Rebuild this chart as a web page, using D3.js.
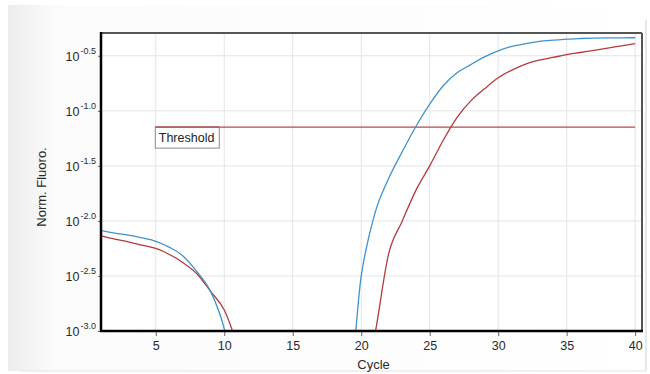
<!DOCTYPE html>
<html lang="en">
<head>
<meta charset="UTF-8">
<script src="https://d3js.org/d3.v7.min.js"></script>
<style>
  body { margin: 0; background: #fff; }
  svg { display: block; font-family: "Liberation Sans", Arial, sans-serif; }
</style>
</head>
<body>
<script>
// cycles 1..40
const cycles = d3.range(1, 41);

// log10 of normalised fluorescence (values below -3 are off the chart)
const blueLog = [-2.085, -2.11, -2.13, -2.155, -2.185, -2.24, -2.32, -2.46, -2.64, -2.98,
  -3.6, -3.6, -3.6, -3.6, -3.6, -3.6, -3.6, -3.6, -3.6, -2.50,
  -1.93, -1.615, -1.37, -1.14, -0.94, -0.77, -0.655, -0.58, -0.51, -0.455,
  -0.415, -0.39, -0.37, -0.358, -0.348, -0.343, -0.34, -0.338, -0.337, -0.336];

const redLog = [-2.136, -2.165, -2.19, -2.22, -2.25, -2.305, -2.38, -2.48, -2.64, -2.81,
  -3.15, -3.6, -3.6, -3.6, -3.6, -3.6, -3.6, -3.6, -3.6, -3.6,
  -3.03, -2.30, -2.0, -1.72, -1.50, -1.265, -1.06, -0.91, -0.80, -0.70,
  -0.63, -0.575, -0.54, -0.515, -0.49, -0.47, -0.45, -0.43, -0.41, -0.39];

const thresholdLog = -1.148;
const thresholdStart = 5;
const thresholdEnd = 40;

const xTicks = [5, 10, 15, 20, 25, 30, 35, 40];
const yTickExp = ['-0.5', '-1.0', '-1.5', '-2.0', '-2.5', '-3.0'];

const W = 650, H = 374;
const margin = { left: 101, right: 8, top: 33, bottom: 43 };
const width = W - margin.left - margin.right;
const height = H - margin.top - margin.bottom;

const svg = d3.select('body').append('svg')
  .attr('width', W)
  .attr('height', H);

// light panel behind the chart
const defs = svg.append('defs');
const grad = defs.append('linearGradient').attr('id', 'panelGrad');
grad.append('stop').attr('offset', '0%').attr('stop-color', '#ececec');
grad.append('stop').attr('offset', '7%').attr('stop-color', '#fbfbfb');
grad.append('stop').attr('offset', '100%').attr('stop-color', '#ffffff');

svg.append('rect')
  .attr('x', 8).attr('y', 5)
  .attr('width', 638).attr('height', 366)
  .attr('fill', 'url(#panelGrad)');
svg.append('line')
  .attr('x1', 646).attr('x2', 646).attr('y1', 20).attr('y2', 371)
  .attr('stroke', '#cfcfcf');
svg.append('line')
  .attr('x1', 20).attr('x2', 646).attr('y1', 371).attr('y2', 371)
  .attr('stroke', '#e2e2e2');

defs.append('clipPath').attr('id', 'plotClip')
  .append('rect').attr('width', width).attr('height', height);

const x = d3.scaleLinear()
  .domain([1, 40.5])
  .range([0, width]);

const y = d3.scaleLog()
  .domain([Math.pow(10, -3), Math.pow(10, -0.293)])
  .range([height, 0]);

const chart = svg.append('g')
  .attr('transform', `translate(${margin.left}, ${margin.top})`);

chart.append('rect')
  .attr('width', width).attr('height', height)
  .attr('fill', '#fff');

// grid lines
chart.append('g')
  .selectAll('line')
  .data(xTicks)
  .enter()
  .append('line')
  .attr('x1', d => x(d)).attr('x2', d => x(d))
  .attr('y1', 0).attr('y2', height)
  .attr('stroke', '#e4e4e4');

chart.append('g')
  .selectAll('line')
  .data(yTickExp)
  .enter()
  .append('line')
  .attr('x1', 0).attr('x2', width)
  .attr('y1', d => y(Math.pow(10, +d))).attr('y2', d => y(Math.pow(10, +d)))
  .attr('stroke', '#e4e4e4');

// x axis
const xAxis = chart.append('g')
  .attr('transform', `translate(0, ${height})`)
  .call(d3.axisBottom(x).tickValues(xTicks).tickSize(5).tickPadding(5));
xAxis.select('.domain').remove();
xAxis.selectAll('line').attr('stroke', '#666');
xAxis.selectAll('text').attr('font-size', '12.5px').attr('fill', '#2a2a2a');

// y axis with 10^exp labels
const yAxis = chart.append('g')
  .call(d3.axisLeft(y).tickValues(yTickExp.map(d => Math.pow(10, +d))).tickSize(3).tickFormat(''));
yAxis.select('.domain').remove();
yAxis.selectAll('line').attr('stroke', '#666');

const yLabels = chart.append('g')
  .selectAll('text')
  .data(yTickExp)
  .enter()
  .append('text')
  .attr('x', -5)
  .attr('y', d => y(Math.pow(10, +d)) + 5)
  .attr('text-anchor', 'end')
  .attr('fill', '#2a2a2a');
yLabels.append('tspan')
  .attr('font-size', '12.5px')
  .text('10');
yLabels.append('tspan')
  .attr('font-size', '9px')
  .attr('dy', -7)
  .attr('dx', 1)
  .text(d => d);

// threshold
const thY = y(Math.pow(10, thresholdLog));
chart.append('line')
  .attr('x1', x(thresholdStart)).attr('x2', x(thresholdEnd))
  .attr('y1', thY).attr('y2', thY)
  .attr('stroke', '#b84848')
  .attr('stroke-width', 1.3);

chart.append('rect')
  .attr('x', x(thresholdStart) - 0.5).attr('y', thY)
  .attr('width', 64).attr('height', 21)
  .attr('fill', '#fff')
  .attr('stroke', '#8a8a8a')
  .attr('stroke-width', 1);
chart.append('line')
  .attr('x1', x(thresholdStart) - 0.5).attr('x2', x(thresholdStart) + 63.5)
  .attr('y1', thY).attr('y2', thY)
  .attr('stroke', '#b84848')
  .attr('stroke-width', 1.3);
chart.append('text')
  .attr('x', x(thresholdStart) + 3)
  .attr('y', thY + 15)
  .attr('font-size', '12.5px')
  .attr('fill', '#222')
  .text('Threshold');

// curves
const line = d3.line()
  .x((d, i) => x(cycles[i]))
  .y(d => y(Math.pow(10, d)))
  .curve(d3.curveMonotoneX);

const curves = chart.append('g').attr('clip-path', 'url(#plotClip)');
curves.append('path')
  .datum(redLog)
  .attr('d', line)
  .attr('fill', 'none')
  .attr('stroke', '#b23c3c')
  .attr('stroke-width', 1.3);
curves.append('path')
  .datum(blueLog)
  .attr('d', line)
  .attr('fill', 'none')
  .attr('stroke', '#3f93cc')
  .attr('stroke-width', 1.3);

// frame: grey top/right, black left/bottom
chart.append('line')
  .attr('x1', 0).attr('x2', width).attr('y1', 0).attr('y2', 0)
  .attr('stroke', '#555').attr('stroke-width', 2);
chart.append('line')
  .attr('x1', width).attr('x2', width).attr('y1', 0).attr('y2', height)
  .attr('stroke', '#555').attr('stroke-width', 2);
chart.append('line')
  .attr('x1', 0).attr('x2', 0).attr('y1', -1).attr('y2', height + 1)
  .attr('stroke', '#000').attr('stroke-width', 2.5);
chart.append('line')
  .attr('x1', -1).attr('x2', width + 1).attr('y1', height).attr('y2', height)
  .attr('stroke', '#000').attr('stroke-width', 2.5);

// axis titles
svg.append('text')
  .attr('x', margin.left + x(20.9))
  .attr('y', 369)
  .attr('text-anchor', 'middle')
  .attr('font-size', '13px')
  .attr('fill', '#2a2a2a')
  .text('Cycle');

svg.append('text')
  .attr('transform', `translate(46, ${margin.top + height / 2 + 5}) rotate(-90)`)
  .attr('text-anchor', 'middle')
  .attr('font-size', '13px')
  .attr('fill', '#2a2a2a')
  .text('Norm. Fluoro.');
</script>
</body>
</html>
